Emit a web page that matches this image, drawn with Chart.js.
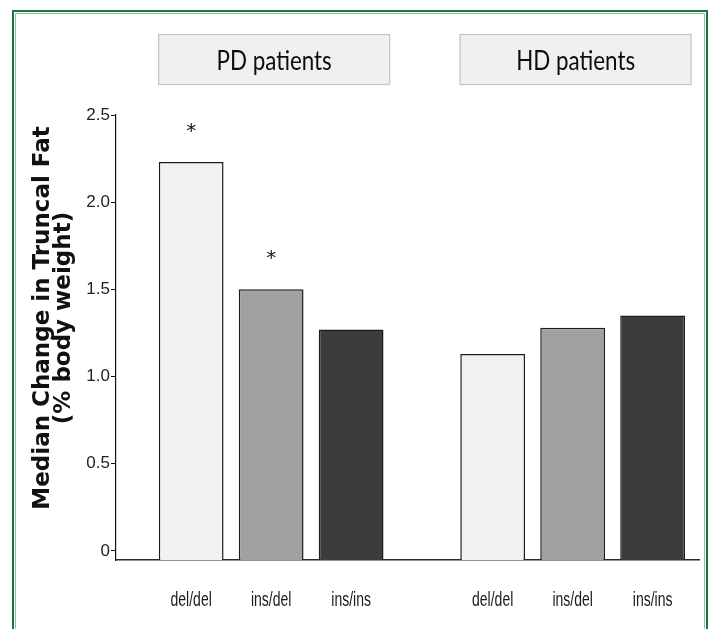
<!DOCTYPE html>
<html>
<head>
<meta charset="utf-8">
<script src="https://cdn.jsdelivr.net/npm/chart.js@4.4.1/dist/chart.umd.min.js"></script>
<style>
  html, body { margin: 0; padding: 0; background: #ffffff; }
  #wrap { width: 710px; height: 629px; }
</style>
</head>
<body>
<div id="wrap"><canvas id="c" width="710" height="629"></canvas></div>
<script>
// ---- data ----
const groups = ['PD patients', 'HD patients'];
const genotypes = ['del/del', 'ins/del', 'ins/ins'];
const pdValues = [2.23, 1.50, 1.27];
const hdValues = [1.13, 1.28, 1.35];
const pdSignificant = [true, true, false];
const hdSignificant = [false, false, false];
const yTicks = [0, 0.5, 1.0, 1.5, 2.0, 2.5];
const yTitleLines = ['Median Change in Truncal Fat', '(% body weight)'];

// ---- styles / layout ----
const genotypeColors = ['#f1f1f1', '#a1a1a1', '#3c3c3c'];
const TICK_FONT = "'Liberation Sans', Arial, sans-serif";
const GROUP_GAP = 0.77;
const Y_MIN = -0.052;

const values = [pdValues, hdValues];
const significant = [pdSignificant, hdSignificant];
const positions = [], points = [], colors = [], tickLabels = [], stars = [];
groups.forEach((g, gi) => genotypes.forEach((gt, k) => {
  const x = gi * (genotypes.length + GROUP_GAP) + k;
  positions.push(x);
  points.push({ x: x, y: values[gi][k] });
  colors.push(genotypeColors[k]);
  tickLabels.push(gt);
  stars.push(significant[gi][k]);
}));

const decorPlugin = {
  id: 'decor',
  beforeDraw(chart) {
    const ctx = chart.ctx;
    ctx.save();
    ctx.fillStyle = '#ffffff';
    ctx.fillRect(0, 0, chart.width, chart.height);
    ctx.restore();
  },
  afterDraw(chart) {
    const ctx = chart.ctx;
    const meta = chart.getDatasetMeta(0);
    const xScale = chart.scales.x;
    ctx.save();
    // outer green frame
    ctx.strokeStyle = '#1d7444';
    ctx.lineWidth = 2;
    ctx.strokeRect(13, 11, 694, 640);
    ctx.strokeStyle = '#86c9a0';
    ctx.lineWidth = 1;
    ctx.strokeRect(15.5, 13.5, 689, 640);

    // group panels
    groups.forEach((g, gi) => {
      const mid = meta.data[gi * genotypes.length + 1];
      const cx = mid.x + 3;
      const w = 232, top = 34, h = 51;
      ctx.fillStyle = '#f0f0f0';
      ctx.fillRect(cx - w / 2, top, w, h);
      ctx.strokeStyle = '#c4c4c4';
      ctx.lineWidth = 1.2;
      ctx.strokeRect(cx - w / 2 + 0.5, top + 0.5, w - 1, h - 1);
      ctx.save();
      ctx.translate(cx, 70);
      ctx.scale(0.86, 1);
      ctx.fillStyle = '#0d0d0d';
      ctx.font = "26px Lato, 'Open Sans', sans-serif";
      ctx.textAlign = 'center';
      ctx.textBaseline = 'alphabetic';
      ctx.fillText(g, 0, 0);
      ctx.restore();
    });

    // genotype labels under each bar (condensed), placed by the x scale
    ctx.fillStyle = '#1a1a1a';
    ctx.font = "20px " + TICK_FONT;
    ctx.textAlign = 'center';
    ctx.textBaseline = 'alphabetic';
    positions.forEach((p, i) => {
      ctx.save();
      ctx.translate(xScale.getPixelForValue(p), 606);
      ctx.scale(0.7, 1);
      ctx.fillText(tickLabels[i], 0, 0);
      ctx.restore();
    });

    // significance stars
    ctx.fillStyle = '#111111';
    ctx.font = "20px 'DejaVu Sans', sans-serif";
    ctx.textAlign = 'center';
    ctx.textBaseline = 'alphabetic';
    meta.data.forEach((bar, i) => {
      if (stars[i]) ctx.fillText('*', bar.x, bar.y - 25);
    });

    // y axis title (two lines, rotated)
    ctx.font = "bold 23px 'DejaVu Sans', Verdana, sans-serif";
    ctx.fillStyle = '#111111';
    ctx.textAlign = 'center';
    const baselines = [49, 70];
    yTitleLines.forEach((t, i) => {
      ctx.save();
      ctx.translate(baselines[i], 318);
      ctx.rotate(-Math.PI / 2);
      ctx.fillText(t, 0, 0);
      ctx.restore();
    });
    ctx.restore();
  }
};

new Chart(document.getElementById('c').getContext('2d'), {
  type: 'bar',
  data: {
    datasets: [{
      data: points,
      backgroundColor: colors,
      borderColor: '#1c1c1c',
      borderWidth: 1.5,
      borderSkipped: 'start',
      base: Y_MIN,
      categoryPercentage: 1,
      barPercentage: 0.81
    }]
  },
  options: {
    responsive: false,
    animation: false,
    devicePixelRatio: 1,
    layout: { padding: { left: 0, right: 11, top: 115, bottom: 0 } },
    plugins: {
      legend: { display: false },
      tooltip: { enabled: false },
      title: { display: false }
    },
    scales: {
      x: {
        type: 'linear',
        min: -0.94,
        max: 6.35,
        offset: false,
        grid: { display: false },
        border: { display: true, color: '#2a2a2a', width: 1.5 },
        afterBuildTicks: s => { s.ticks = positions.map(v => ({ value: v })); },
        afterFit: s => { s.height = 69; },
        ticks: { display: false, autoSkip: false, maxRotation: 0 }
      },
      y: {
        min: Y_MIN,
        max: 2.5,
        afterBuildTicks: s => { s.ticks = yTicks.map(v => ({ value: v })); },
        afterFit: s => { s.width = 116; },
        grid: { drawOnChartArea: false, drawTicks: true, tickLength: 5, color: '#111111', lineWidth: 1 },
        border: { display: true, color: '#111111', width: 1.2 },
        ticks: {
          padding: 1,
          color: '#222222',
          font: { family: TICK_FONT, size: 17 },
          callback: v => v === 0 ? '0' : v.toFixed(1)
        }
      }
    }
  },
  plugins: [decorPlugin]
});
</script>
</body>
</html>
